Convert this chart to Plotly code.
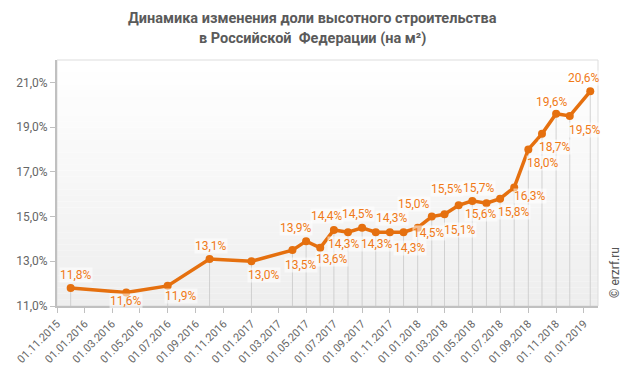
import plotly.graph_objects as go

# ---- data ----
dates = [
    "2015-12-01", "2016-04-01", "2016-07-01", "2016-10-01", "2017-01-01",
    "2017-04-01", "2017-05-01", "2017-06-01", "2017-07-01", "2017-08-01",
    "2017-09-01", "2017-10-01", "2017-11-01", "2017-12-01", "2018-01-01",
    "2018-02-01", "2018-03-01", "2018-04-01", "2018-05-01", "2018-06-01",
    "2018-07-01", "2018-08-01", "2018-09-01", "2018-10-01", "2018-11-01",
    "2018-12-01", "2019-01-15",
]
values = [
    11.8, 11.6, 11.9, 13.1, 13.0,
    13.5, 13.9, 13.6, 14.4, 14.3,
    14.5, 14.3, 14.3, 14.3, 14.5,
    15.0, 15.1, 15.5, 15.7, 15.6,
    15.8, 16.3, 18.0, 18.7, 19.6,
    19.5, 20.6,
]
x_tick_dates = [
    "2015-11-01", "2016-01-01", "2016-03-01", "2016-05-01", "2016-07-01",
    "2016-09-01", "2016-11-01", "2017-01-01", "2017-03-01", "2017-05-01",
    "2017-07-01", "2017-09-01", "2017-11-01", "2018-01-01", "2018-03-01",
    "2018-05-01", "2018-07-01", "2018-09-01", "2018-11-01", "2019-01-01",
]
x_tick_labels = [d[8:10] + "." + d[5:7] + "." + d[0:4] for d in x_tick_dates]
y_ticks = [11, 13, 15, 17, 19, 21]
y_tick_labels = ["11,0%", "13,0%", "15,0%", "17,0%", "19,0%", "21,0%"]
y_min, y_max = 11, 22
x_range = ["2015-11-01", "2019-02-01"]

title_lines = ["Динамика изменения доли высотного строительства",
               "в Российской  Федерации (на м²)"]

# label pixel offsets (layout only)
label_offsets = [
    (5, -13), (0, 8), (13, 10), (1, -13), (13, 14),
    (9, 15), (-10, -13), (12, 11), (-7, -14), (-4, 12),
    (-4, -14), (1, 12), (2, -14), (6, 16), (11, 5),
    (-18, -13), (15, 16), (-12, -16), (7, -13), (-5, 11),
    (14, 13), (16, 9), (15, 14), (13, 13), (-4, -12),
    (15, 14), (-6, -13),
]

LINE = "#E5700F"
LABEL = "#F07A18"

W, H = 624, 375
ML, MR, MT, MB = 57, 26, 60, 69
PW, PH = W - ML - MR, H - MT - MB

def fmt(v):
    return ("%.1f" % v).replace(".", ",") + "%"

fig = go.Figure()

# background gradient bands
n = 40
shapes = []
for i in range(n):
    t = i / (n - 1)
    c = int(round(255 - (255 - 238) * (1 - t)))
    shapes.append(dict(type="rect", xref="paper", yref="paper",
                       x0=0, x1=1, y0=i / n, y1=(i + 1) / n,
                       fillcolor="rgb(%d,%d,%d)" % (c, c, c),
                       line=dict(width=0), layer="below"))
shapes.append(dict(type="rect", xref="paper", yref="paper", x0=0, x1=1, y0=0, y1=1,
                   line=dict(color="#dddddd", width=1), layer="below"))

fig.add_trace(go.Scatter(
    x=dates, y=values, mode="lines+markers",
    line=dict(color=LINE, width=3.5),
    marker=dict(color=LINE, size=8),
    error_y=dict(type="data", symmetric=False,
                 array=[0] * len(values),
                 arrayminus=[v - y_min for v in values],
                 color="rgba(200,200,200,0.8)", thickness=1, width=0),
    hoverinfo="x+y", showlegend=False,
))

annotations = []
for d, v, (dx, dy) in zip(dates, values, label_offsets):
    annotations.append(dict(
        x=d, y=v, xref="x", yref="y", text=fmt(v), showarrow=False,
        xshift=dx, yshift=-dy,
        font=dict(family="Roboto", size=12, color=LABEL),
        bgcolor="rgba(255,255,255,0.55)", borderpad=0,
    ))

# title lines (pixel centred)
for txt, py in zip(title_lines, [19, 38]):
    annotations.append(dict(
        x=(W / 2 - ML) / PW, y=(H - MB - py) / PH, xref="paper", yref="paper",
        xanchor="center", yanchor="middle",
        text="<b>" + txt + "</b>", showarrow=False,
        font=dict(family="Roboto", size=14.5, color="#5a5a5a"),
    ))

# copyright
annotations.append(dict(
    x=(615 - ML) / PW, y=(H - MB - 273) / PH, xref="paper", yref="paper",
    xanchor="center", yanchor="middle",
    text="© erzrf.ru", showarrow=False, textangle=-90,
    font=dict(family="Roboto", size=12, color="#555555"),
))

fig.update_layout(
    width=W, height=H,
    margin=dict(l=ML, r=MR, t=MT, b=MB, autoexpand=False),
    paper_bgcolor="white", plot_bgcolor="rgba(0,0,0,0)",
    separators=", ",
    shapes=shapes, annotations=annotations,
    xaxis=dict(type="date", range=x_range, tickvals=x_tick_dates, ticktext=x_tick_labels,
               tickangle=-45, showgrid=False, zeroline=False, automargin=False,
               showline=True, linecolor="#c0c0c0", linewidth=2,
               ticks="outside", ticklen=5, tickcolor="#c0c0c0",
               tickfont=dict(family="Roboto", size=11, color="#666666")),
    yaxis=dict(range=[y_min, y_max], tickvals=y_ticks, ticktext=y_tick_labels,
               showgrid=False, zeroline=False, automargin=False,
               showline=True, linecolor="#c0c0c0", linewidth=2,
               ticks="outside", ticklen=5, tickcolor="#c0c0c0",
               tickfont=dict(family="Roboto", size=12, color="#666666")),
)

fig.write_html("out.html", config={"displayModeBar": False},
               post_script="document.body.style.margin='0';document.body.style.overflow='hidden';")
